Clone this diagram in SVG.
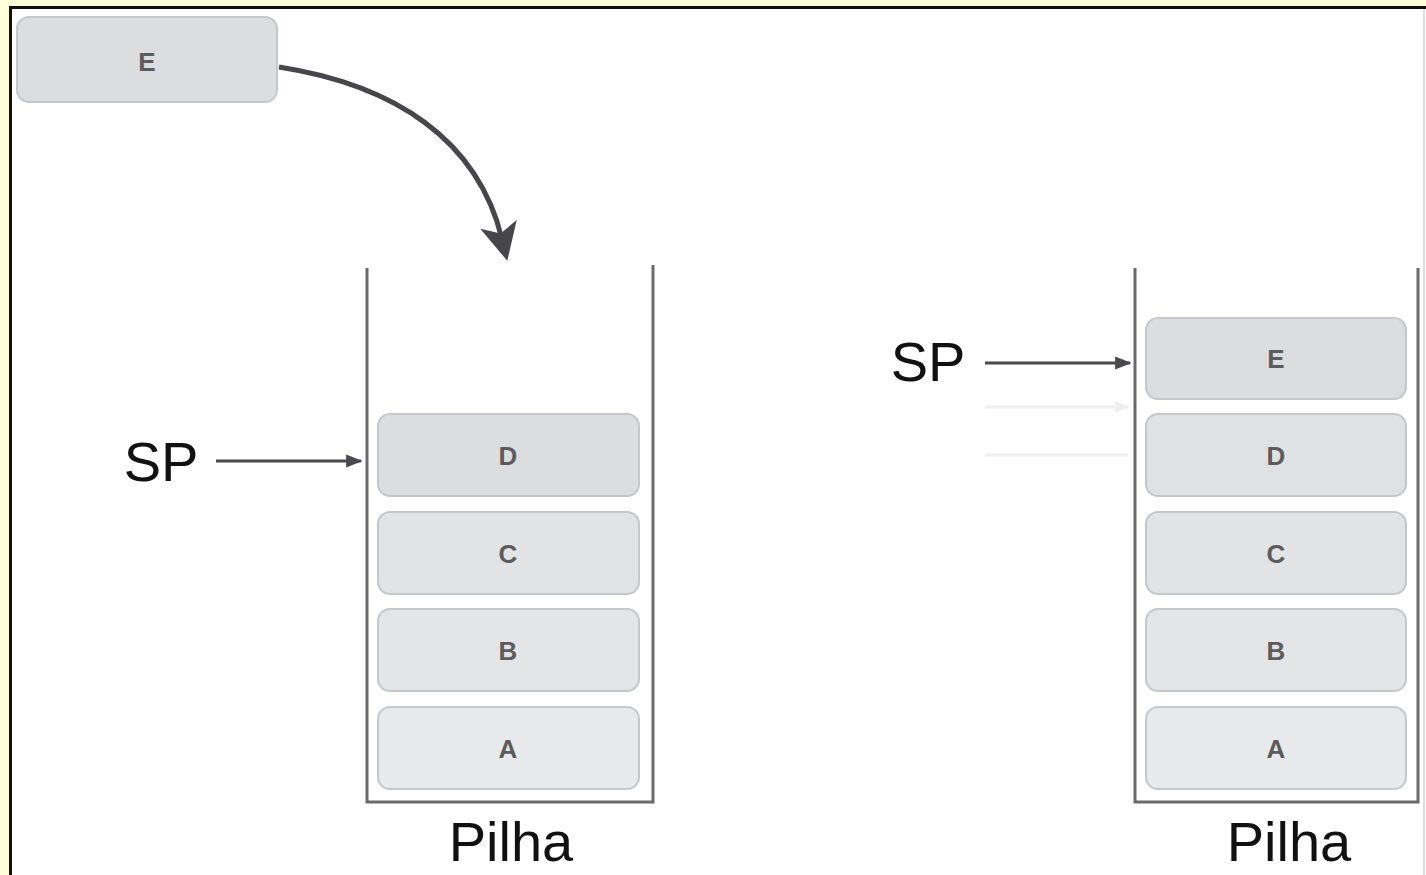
<svg xmlns="http://www.w3.org/2000/svg" width="1426" height="875" viewBox="0 0 1426 875">
<defs>
<style>
.box{stroke:#c6c7c9;stroke-width:2}
.lbl{font-family:"Liberation Sans",Arial,sans-serif;font-size:26px;font-weight:bold;fill:#5c5c5e;text-anchor:middle}
.big{font-family:"Liberation Sans",Arial,sans-serif;font-size:56px;fill:#111;text-anchor:middle}
.wall{fill:none;stroke:#6a6a6c;stroke-width:3}
.ptr{stroke:#4a4a4c;stroke-width:3;fill:none}
.ghost{stroke:#eeeeef;stroke-width:3;fill:none}
</style>
<marker id="ah" viewBox="0 0 10 10" refX="9" refY="5" markerWidth="5.5" markerHeight="5.5" orient="auto" markerUnits="strokeWidth"><path d="M0,1 L10,5 L0,9 z" fill="#4a4a4c"/></marker>
<marker id="ahg" viewBox="0 0 10 10" refX="9" refY="5" markerWidth="5" markerHeight="5" orient="auto" markerUnits="strokeWidth"><path d="M0,1 L10,5 L0,9 z" fill="#eeeeef"/></marker>
<marker id="big" viewBox="0 0 10 10" refX="4" refY="5" markerWidth="7.5" markerHeight="7.5" orient="auto" markerUnits="strokeWidth"><path d="M0,0 L10,5 L0,10 L2.5,5 z" fill="#47474a"/></marker>
</defs>
<rect x="0" y="0" width="1426" height="875" fill="#ffffdc"/>
<rect x="10.5" y="7.5" width="1430" height="880" fill="#ffffff" stroke="#111" stroke-width="3"/>
<line x1="1424" y1="9" x2="1424" y2="875" stroke="#dddddd" stroke-width="2"/>

<g id="node-e-top">
<rect class="box" x="17" y="17" width="260" height="85" rx="12" fill="#dcdddf"/>
<text class="lbl" x="147" y="71">E</text>
</g>

<g id="stack-left">
<path class="wall" d="M367,268 V802 H653 V265"/>
<text class="big" x="511" y="861">Pilha</text>
</g>
<g id="left-d"><rect class="box" x="378" y="414" width="261" height="82" rx="12" fill="#dcdddf"/><text class="lbl" x="508" y="465">D</text></g>
<g id="left-c"><rect class="box" x="378" y="512" width="261" height="82" rx="12" fill="#e2e3e5"/><text class="lbl" x="508" y="563">C</text></g>
<g id="left-b"><rect class="box" x="378" y="609" width="261" height="82" rx="12" fill="#e4e5e7"/><text class="lbl" x="508" y="660">B</text></g>
<g id="left-a"><rect class="box" x="378" y="707" width="261" height="82" rx="12" fill="#e8e9eb"/><text class="lbl" x="508" y="758">A</text></g>
<g id="sp-left"><text class="big" x="161" y="481">SP</text></g>

<g id="stack-right">
<path class="wall" d="M1135,268 V802 H1418 V268"/>
<text class="big" x="1289" y="861">Pilha</text>
</g>
<g id="right-e"><rect class="box" x="1146" y="318" width="260" height="81" rx="12" fill="#dcdddf"/><text class="lbl" x="1276" y="368">E</text></g>
<g id="right-d"><rect class="box" x="1146" y="414" width="260" height="82" rx="12" fill="#e0e1e3"/><text class="lbl" x="1276" y="465">D</text></g>
<g id="right-c"><rect class="box" x="1146" y="512" width="260" height="82" rx="12" fill="#e2e3e5"/><text class="lbl" x="1276" y="563">C</text></g>
<g id="right-b"><rect class="box" x="1146" y="609" width="260" height="82" rx="12" fill="#e4e5e7"/><text class="lbl" x="1276" y="660">B</text></g>
<g id="right-a"><rect class="box" x="1146" y="707" width="260" height="82" rx="12" fill="#e8e9eb"/><text class="lbl" x="1276" y="758">A</text></g>
<g id="sp-right"><text class="big" x="928" y="381">SP</text></g>

<g id="connectors">
<path d="M279,67 C395,85 478,140 502,239" fill="none" stroke="#47474a" stroke-width="5" marker-end="url(#big)"/>
<line class="ptr" x1="216" y1="461" x2="361" y2="461" marker-end="url(#ah)"/>
<line class="ptr" x1="985" y1="363" x2="1130" y2="363" marker-end="url(#ah)"/>
<line class="ghost" x1="985" y1="407" x2="1128" y2="407" marker-end="url(#ahg)"/>
<line class="ghost" x1="985" y1="455" x2="1128" y2="455"/>
</g>
</svg>
